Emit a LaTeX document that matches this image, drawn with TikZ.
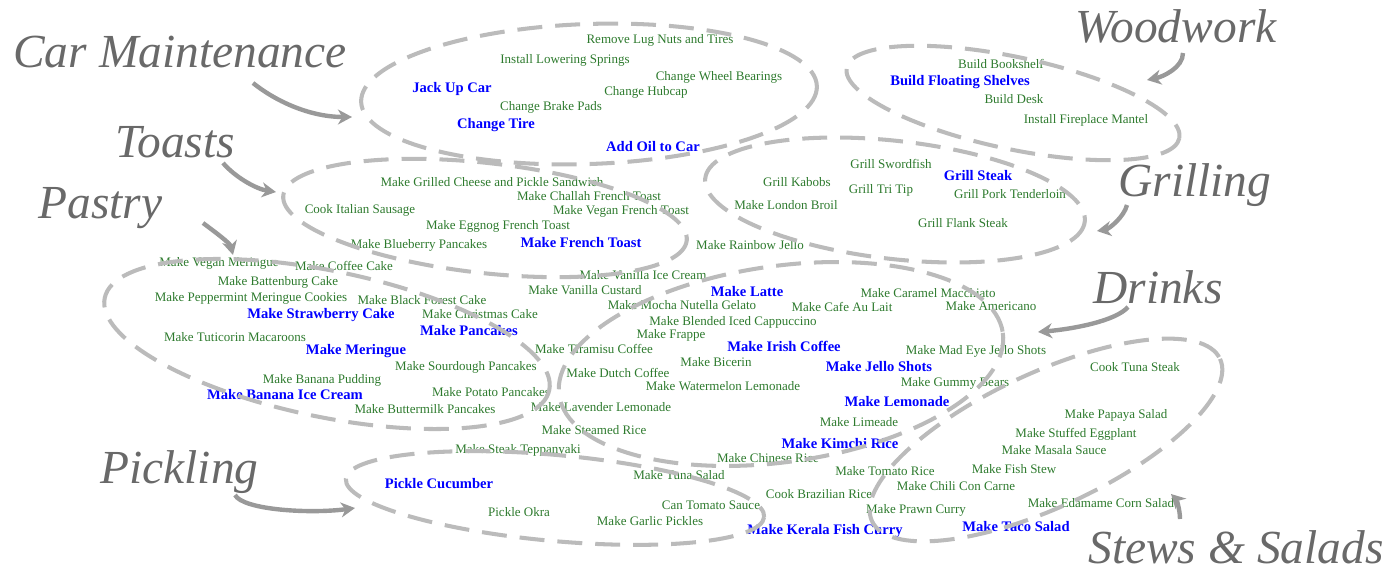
\documentclass[tikz,border=0pt]{standalone}
\usepackage{fontspec}
\setmainfont{Liberation Serif}
\usetikzlibrary{arrows.meta}
\definecolor{taskgreen}{RGB}{45,122,45}
\definecolor{ringgray}{RGB}{187,187,187}
\definecolor{pointgray}{RGB}{153,153,153}
\definecolor{catgray}{RGB}{105,105,105}
\begin{document}
\begin{tikzpicture}[x=0.02cm,y=-0.02cm,
  task/.style={inner sep=0pt,text=taskgreen,font=\fontsize{7.4}{8}\selectfont},
  keytask/.style={inner sep=0pt,text=blue,font=\bfseries\fontsize{8.3}{9}\selectfont},
  cat/.style={inner sep=0pt,anchor=base west,text=catgray,font=\itshape\fontsize{27}{30}\selectfont},
  grp/.style={draw=ringgray,line width=2.3pt,dash pattern=on 14.2pt off 7.4pt},
  pointer/.style={draw=pointgray,line width=2.5pt,-{Stealth[length=8pt,width=8.5pt,inset=2.5pt]}}]
  \useasboundingbox (0,0) rectangle (1394,571);
  \foreach \x/\y/\txt [count=\i] in {660/40/Remove Lug Nuts and Tires, 565/60/Install Lowering Springs,
      719/77/Change Wheel Bearings, 646/92/Change Hubcap, 551/107/Change Brake Pads,
      1001/64/Build Bookshelf, 1014/99/Build Desk, 1086/120/Install Fireplace Mantel,
      891/164/Grill Swordfish, 797/182/Grill Kabobs, 881/190/Grill Tri Tip, 1010/194/Grill Pork Tenderloin,
      786/205/Make London Broil, 963/223/Grill Flank Steak, 750/245/Make Rainbow Jello,
      492/182/Make Grilled Cheese and Pickle Sandwich, 589/196/Make Challah French Toast,
      360/210/Cook Italian Sausage, 621/211/Make Vegan French Toast, 498/226/Make Eggnog French Toast,
      419/245/Make Blueberry Pancakes,
      219/263/Make Vegan Meringue, 344/266/Make Coffee Cake, 278/282/Make Battenburg Cake,
      251/298/Make Peppermint Meringue Cookies, 422/300/Make Black Forest Cake, 480/314/Make Christmas Cake,
      235/337/Make Tuticorin Macaroons, 466/367/Make Sourdough Pancakes, 322/380/Make Banana Pudding,
      491/392/Make Potato Pancakes, 425/409/Make Buttermilk Pancakes,
      643/275/Make Vanilla Ice Cream, 585/290/Make Vanilla Custard, 928/293/Make Caramel Macchiato,
      682/305/Make Mocha Nutella Gelato, 842/307/Make Cafe Au Lait, 991/306/Make Americano,
      733/322/Make Blended Iced Cappuccino, 671/335/Make Frappe, 594/349/Make Tiramisu Coffee,
      976/351/Make Mad Eye Jello Shots, 716/362/Make Bicerin, 618/373/Make Dutch Coffee,
      723/386/Make Watermelon Lemonade, 955/383/Make Gummy Bears, 601/407/Make Lavender Lemonade,
      859/422/Make Limeade, 594/430/Make Steamed Rice, 518/450/Make Steak Teppanyaki,
      768/458/Make Chinese Rice, 885/471/Make Tomato Rice, 679/475/Make Tuna Salad,
      956/486/Make Chili Con Carne, 819/494/Cook Brazilian Rice, 711/505/Can Tomato Sauce,
      916/510/Make Prawn Curry, 650/521/Make Garlic Pickles, 519/512/Pickle Okra,
      1135/367/Cook Tuna Steak, 1116/415/Make Papaya Salad, 1076/434/Make Stuffed Eggplant,
      1054/450/Make Masala Sauce, 1014/469/Make Fish Stew, 1101/503/Make Edamame Corn Salad}
    \node[task] (t\i) at (\x,\y) {\txt};
  \foreach \x/\y/\txt [count=\i] in {452/89/Jack Up Car, 496/125/Change Tire, 653/147/Add Oil to Car,
      960/82/Build Floating Shelves, 978/176/Grill Steak, 581/243/Make French Toast,
      321/315/Make Strawberry Cake, 469/331/Make Pancakes, 356/351/Make Meringue,
      285/395/Make Banana Ice Cream, 747/292/Make Latte, 784/346/Make Irish Coffee,
      879/367/Make Jello Shots, 897/402/Make Lemonade, 840/444/Make Kimchi Rice,
      439/484/Pickle Cucumber, 825/531/Make Kerala Fish Curry, 1016/527/Make Taco Salad}
    \node[keytask] (k\i) at (\x,\y) {\txt};
  \draw[grp,rotate around={2:(589,94)}] (589,94) ellipse (228 and 70);
  \draw[grp,rotate around={-12:(1013,103)}] (1013,103) ellipse (170 and 46);
  \draw[grp,rotate around={-6.5:(895,200)}] (895,200) ellipse (191 and 59);
  \draw[grp,rotate around={-6.4:(485,218)}] (485,218) ellipse (203 and 55);
  \draw[grp,rotate around={-11.7:(327,344)}] (327,344) ellipse (227 and 73);
  \draw[grp,rotate around={8:(781,364)}] (781,364) ellipse (224 and 98);
  \draw[grp,rotate around={-5.2:(555,498)}] (555,498) ellipse (210 and 43);
  \draw[grp,rotate around={25:(1046,440)}] (1046,440) ellipse (192 and 67);
  \node[cat] (carlbl) at (13,68) {Car Maintenance};
  \node[cat] (woodlbl) at (1075,43) {Woodwork};
  \node[cat] (toastlbl) at (115,157) {Toasts};
  \node[cat] (grilllbl) at (1118,196) {Grilling};
  \node[cat] (pastrylbl) at (38,218) {Pastry};
  \node[cat] (drinklbl) at (1093,303) {Drinks};
  \node[cat] (picklelbl) at (100,483) {Pickling};
  \node[cat] (stewlbl) at (1088,563) {Stews \& Salads};
  \coordinate (carin) at (352,117);
  \coordinate (woodin) at (1147,80);
  \coordinate (toastin) at (276,192);
  \coordinate (grillin) at (1097,231);
  \coordinate (pastryin) at (233,255);
  \coordinate (drinkin) at (1038,332);
  \coordinate (picklein) at (355,508);
  \coordinate (stewin) at (1171,494);
  \draw[pointer] ([shift={(240,15)}]carlbl.base west) .. controls +(25,20) and +(-40,0) .. (carin);
  \draw[pointer] ([shift={(108,10)}]woodlbl.base west) .. controls +(0,15) and +(15,-3) .. (woodin);
  \draw[pointer] ([shift={(108,6)}]toastlbl.base west) .. controls +(12,14) and +(-20,-3) .. (toastin);
  \draw[pointer] ([shift={(9,9)}]grilllbl.base west) .. controls +(-3,12) and +(12,-2) .. (grillin);
  \draw[pointer] ([shift={(165,5)}]pastrylbl.base west) .. controls +(12,9) and +(-3,-12) .. (pastryin);
  \draw[pointer] ([shift={(35,4)}]drinklbl.base west) .. controls +(-12,14) and +(35,-3) .. (drinkin);
  \draw[pointer] ([shift={(135,12)}]picklelbl.base west) .. controls +(8,15) and +(-45,6) .. (picklein);
  \draw[pointer] ([shift={(92,-44)}]stewlbl.base west) .. controls +(0,-10) and +(5,5) .. (stewin);
\end{tikzpicture}
\end{document}
